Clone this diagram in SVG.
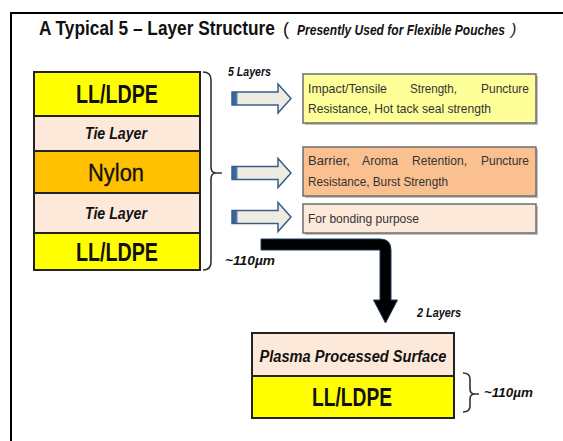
<svg xmlns="http://www.w3.org/2000/svg" width="563" height="441" viewBox="0 0 563 441">
<style>
  .frame{stroke:#000;stroke-width:2;fill:none}
  .layer{stroke:#222;stroke-width:2}
  .ll{fill:#FFFF00}
  .tie{fill:#FDE9D9}
  .nylon{fill:#FFC000}
  .big{font-family:"Liberation Sans",Arial,sans-serif;font-weight:bold;font-size:25px;fill:#111;text-anchor:middle}
  .tietxt{font-family:"Liberation Sans",Arial,sans-serif;font-weight:bold;font-style:italic;font-size:16px;fill:#111;text-anchor:middle}
  .nyl{font-family:"Liberation Sans",Arial,sans-serif;font-size:23px;fill:#111;text-anchor:middle;stroke:#111;stroke-width:0.3}
  .small{font-family:"Liberation Sans",Arial,sans-serif;font-weight:bold;font-style:italic;font-size:12px;fill:#111}
  .info{stroke:#6e6e6e;stroke-width:1.5}
  .shadow{fill:#8c8c8c;opacity:0.55}
  .itxt{font-family:"Liberation Sans",Arial,sans-serif;font-size:13px;fill:#333}
  .brace{fill:none;stroke:#333;stroke-width:1.6}
  .blk{fill:url(#blockFill);stroke:#385D8A;stroke-width:1.5}
  .ttl{font-family:"Liberation Sans",Arial,sans-serif;fill:#111}
</style>
<defs>
  <linearGradient id="blockFill" x1="0" y1="0" x2="1" y2="0">
    <stop offset="0" stop-color="#3C64A0"/>
    <stop offset="0.07" stop-color="#3C64A0"/>
    <stop offset="0.11" stop-color="#EEECE1"/>
    <stop offset="1" stop-color="#EEECE1"/>
  </linearGradient>
</defs>

<rect width="563" height="441" fill="#fff"/>
<path class="frame" d="M11,441 L11,13 L563,13"/>

<text class="ttl" transform="translate(39,35) scale(0.863,1)" x="0" y="0" font-weight="bold" font-size="20">A Typical 5 – Layer Structure</text>
<text class="ttl" x="283" y="35" font-size="18">(</text>
<text class="ttl" transform="translate(297,35) scale(0.86,1)" x="0" y="0" font-weight="bold" font-style="italic" font-size="14">Presently Used for Flexible Pouches</text>
<text class="ttl" x="511" y="35" font-style="italic" font-size="16">)</text>

<g id="layer-ll-top">
  <rect class="layer ll" x="34" y="72" width="166" height="44"/>
  <text class="big" x="117" y="103" textLength="82" lengthAdjust="spacingAndGlyphs">LL/LDPE</text>
</g>
<g id="layer-tie-1">
  <rect class="layer tie" x="34" y="116" width="166" height="35"/>
  <text class="tietxt" x="116" y="139" textLength="62" lengthAdjust="spacingAndGlyphs">Tie Layer</text>
</g>
<g id="layer-nylon">
  <rect class="layer nylon" x="34" y="151" width="166" height="42"/>
  <text class="nyl" x="116" y="181" textLength="56" lengthAdjust="spacingAndGlyphs">Nylon</text>
</g>
<g id="layer-tie-2">
  <rect class="layer tie" x="34" y="193" width="166" height="40"/>
  <text class="tietxt" x="116" y="219" textLength="62" lengthAdjust="spacingAndGlyphs">Tie Layer</text>
</g>
<g id="layer-ll-bottom">
  <rect class="layer ll" x="34" y="233" width="166" height="37"/>
  <text class="big" x="117" y="261" textLength="82" lengthAdjust="spacingAndGlyphs">LL/LDPE</text>
</g>

<g id="brace-5">
  <path class="brace" d="M203,72 Q211,72 211,80 L211,167 Q211,173 216,173 L222,173 M216,173 Q211,173 211,179 L211,262 Q211,270 203,270"/>
  <text class="small" x="228" y="76" textLength="43" lengthAdjust="spacingAndGlyphs">5 Layers</text>
  <text class="small" x="225" y="265" textLength="50" lengthAdjust="spacingAndGlyphs">~110µm</text>
</g>

<g id="info-1">
  <rect class="shadow" x="305" y="76" width="233" height="49"/>
  <rect class="info" x="303" y="74" width="233" height="49" fill="#FFFF99"/>
  <text class="itxt" y="93"><tspan x="308" textLength="79" lengthAdjust="spacingAndGlyphs">Impact/Tensile</tspan><tspan x="410" textLength="47" lengthAdjust="spacingAndGlyphs">Strength,</tspan><tspan x="481" textLength="48" lengthAdjust="spacingAndGlyphs">Puncture</tspan></text>
  <text class="itxt" x="308" y="113" textLength="183" lengthAdjust="spacingAndGlyphs">Resistance,  Hot tack seal strength</text>
</g>
<g id="info-2">
  <rect class="shadow" x="305" y="149" width="233" height="49"/>
  <rect class="info" x="303" y="147" width="233" height="49" fill="#FAC090"/>
  <text class="itxt" y="165"><tspan x="308" textLength="42" lengthAdjust="spacingAndGlyphs">Barrier,</tspan><tspan x="362" textLength="36" lengthAdjust="spacingAndGlyphs">Aroma</tspan><tspan x="412" textLength="55" lengthAdjust="spacingAndGlyphs">Retention,</tspan><tspan x="481" textLength="48" lengthAdjust="spacingAndGlyphs">Puncture</tspan></text>
  <text class="itxt" x="308" y="186" textLength="140" lengthAdjust="spacingAndGlyphs">Resistance, Burst Strength</text>
</g>
<g id="info-3">
  <rect class="shadow" x="305" y="206" width="233" height="29"/>
  <rect class="info" x="303" y="204" width="233" height="29" fill="#FDE9D9"/>
  <text class="itxt" x="308" y="223" textLength="111" lengthAdjust="spacingAndGlyphs">For bonding purpose</text>
</g>

<g id="bottom-plasma">
  <rect class="layer tie" x="252" y="333" width="202" height="43"/>
  <text class="tietxt" x="353" y="362" font-size="18" textLength="187" lengthAdjust="spacingAndGlyphs">Plasma Processed Surface</text>
</g>
<g id="bottom-ll">
  <rect class="layer ll" x="252" y="376" width="202" height="42"/>
  <text class="big" x="352" y="406" font-size="26" textLength="80" lengthAdjust="spacingAndGlyphs">LL/LDPE</text>
</g>
<g id="brace-2">
  <path class="brace" d="M463,373 Q470,373 470,379 L470,389 Q470,394 475,394 L479,394 M475,394 Q470,394 470,399 L470,406 Q470,412 463,412"/>
  <text class="small" x="417" y="317" textLength="44" lengthAdjust="spacingAndGlyphs">2 Layers</text>
  <text class="small" x="484" y="397" textLength="49" lengthAdjust="spacingAndGlyphs">~110µm</text>
</g>

<g id="connectors">
  <path class="blk" d="M232,92 L278,92 L278,84 L291,98.5 L278,113 L278,105 L232,105 Z"/>
  <path class="blk" d="M232,166.5 L278,166.5 L278,158.5 L291,173 L278,187.5 L278,179.5 L232,179.5 Z"/>
  <path class="blk" d="M232,210.5 L278,210.5 L278,202.5 L291,217 L278,231.5 L278,223.5 L232,223.5 Z"/>
  <path d="M261,239 L380,239 Q391,239 391,250 L391,300 L397.5,300 L385.5,323 L373.5,300 L380,300 L380,250 L261,250 Z" fill="#000" stroke="#1F3A5C" stroke-width="1"/>
</g>
</svg>
